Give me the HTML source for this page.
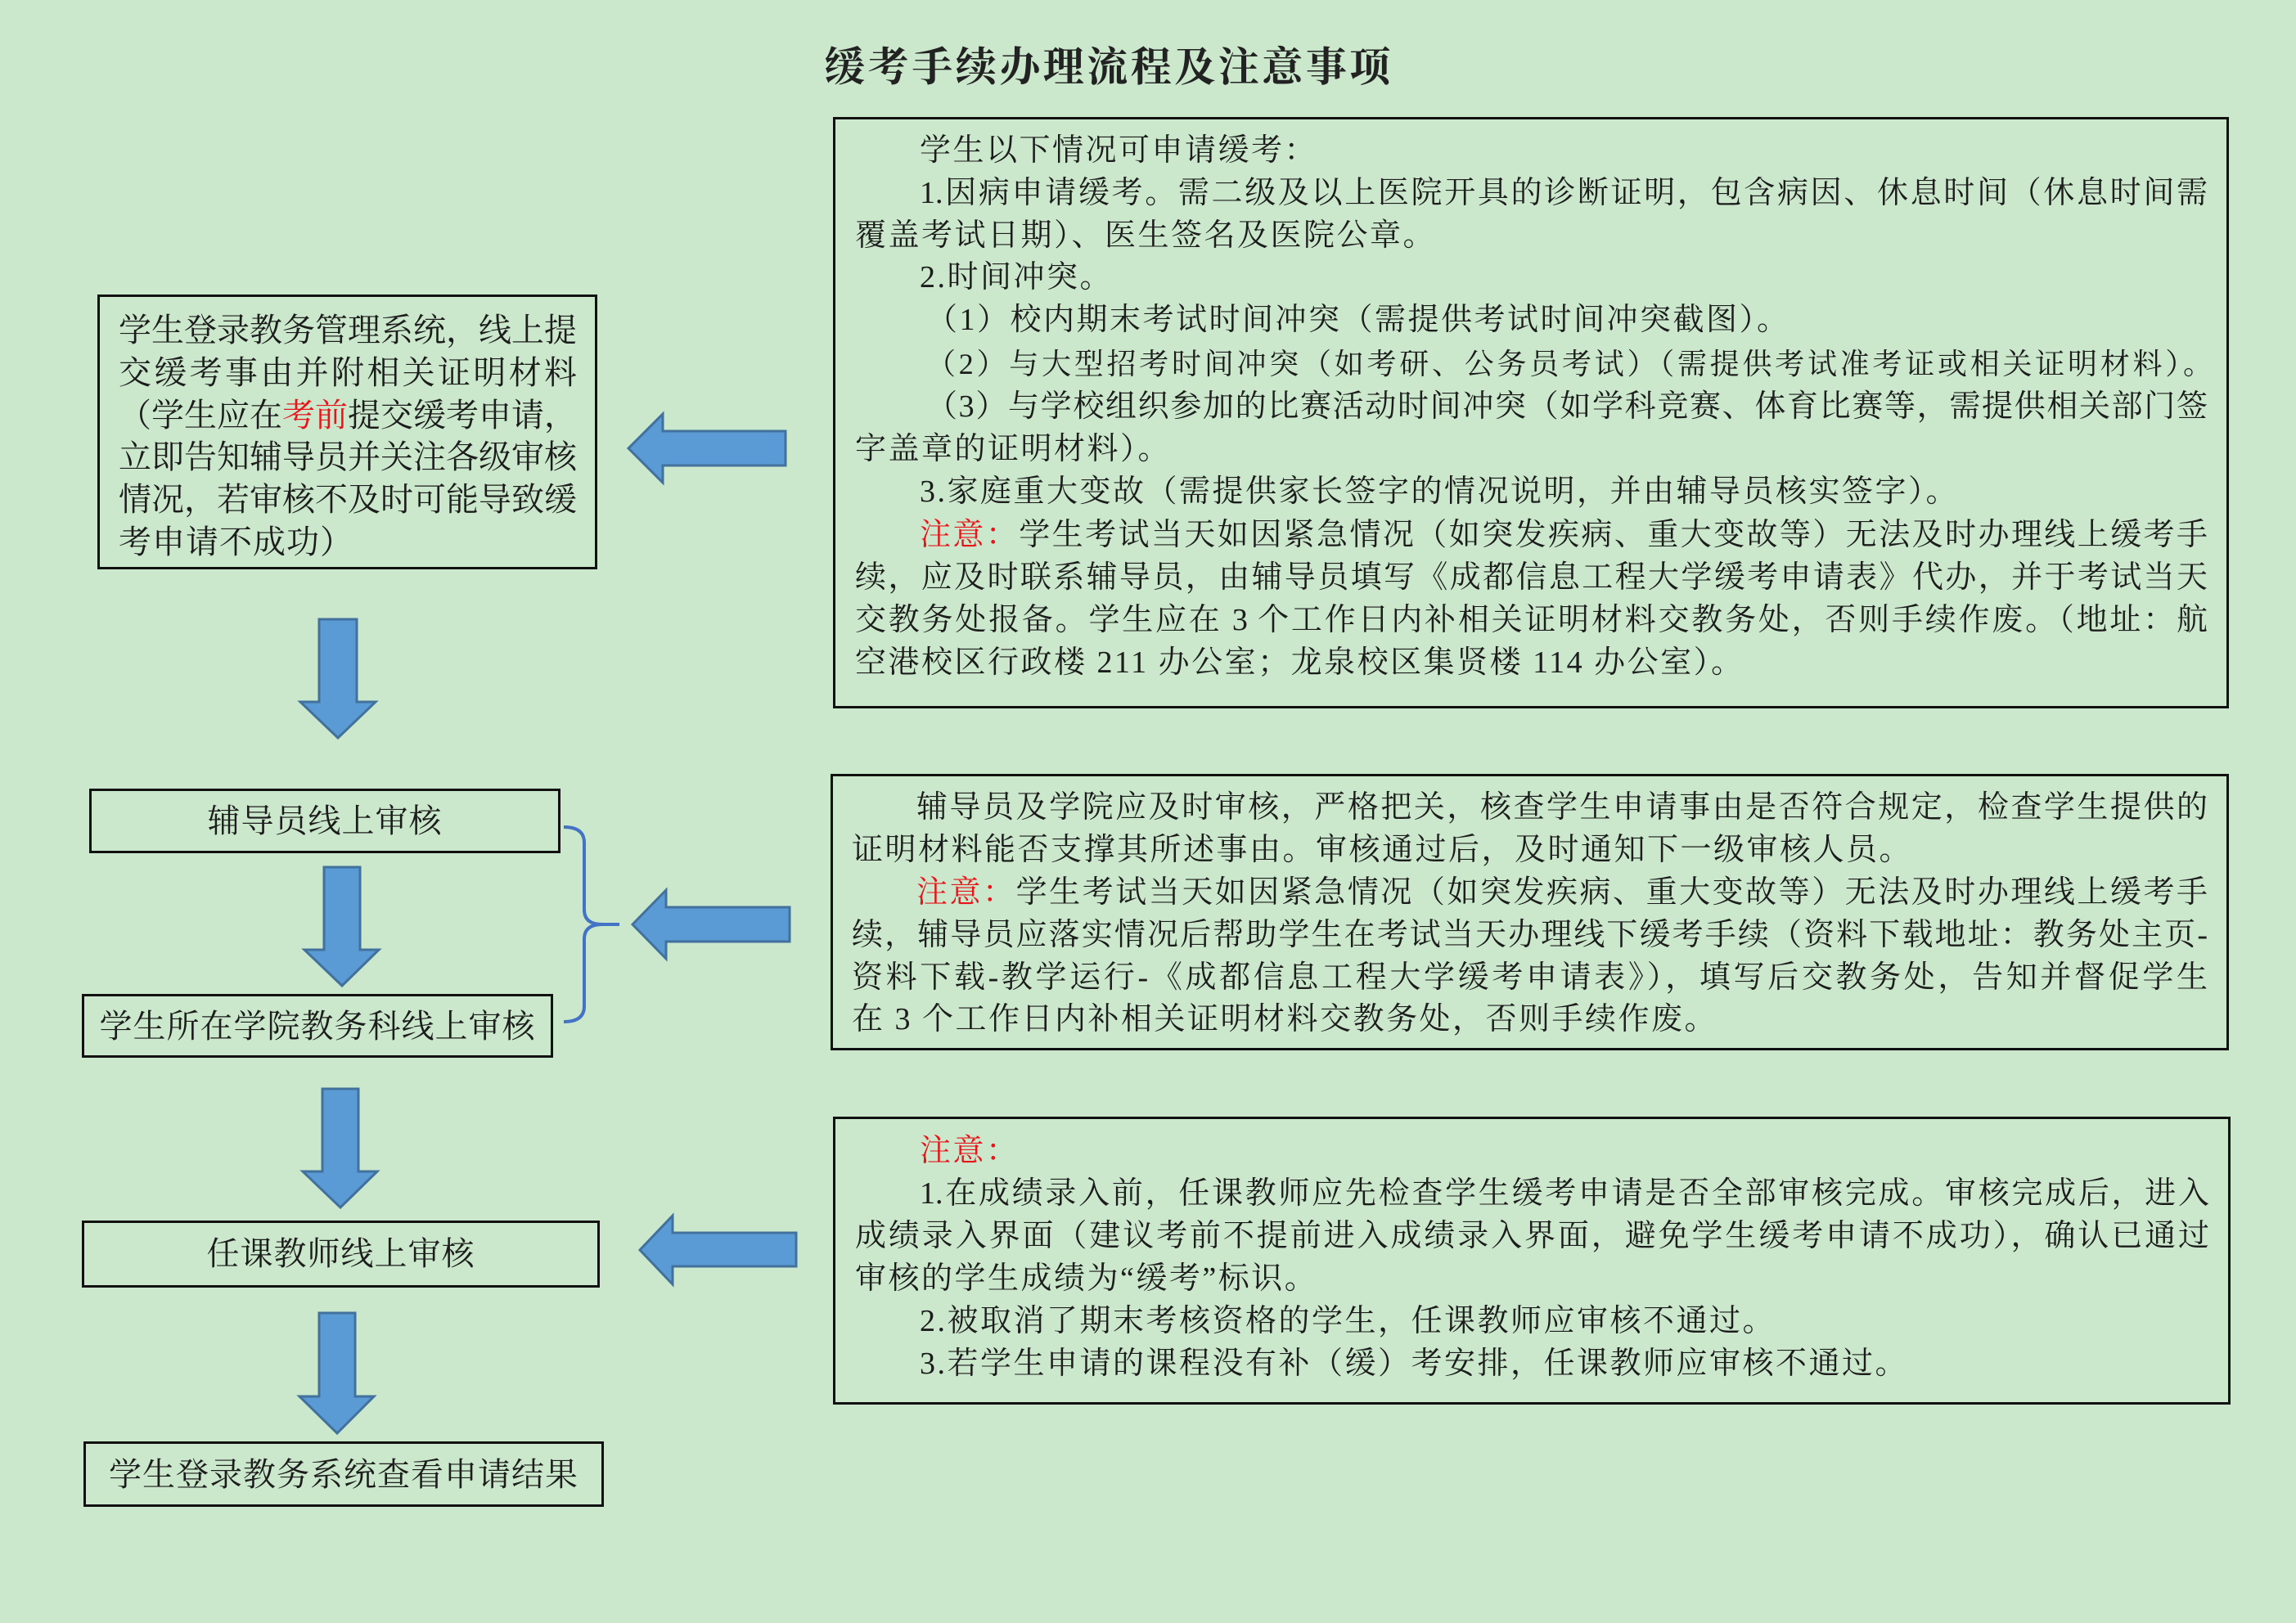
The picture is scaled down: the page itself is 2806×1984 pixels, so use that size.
<!DOCTYPE html>
<html><head><meta charset="utf-8">
<style>
html,body{margin:0;padding:0}
body{width:2806px;height:1984px;background:#cbe8cc;position:relative;overflow:hidden;font-family:"Liberation Serif","Noto Serif CJK SC",serif;color:#1c1c1c}
.box{position:absolute;border:3px solid #111;box-sizing:border-box}
.l{position:absolute;height:52px;line-height:52px;font-size:38px;white-space:nowrap;letter-spacing:2.5px;margin-top:3px}
.j{text-align:justify;text-align-last:justify;white-space:normal;overflow:hidden;letter-spacing:0}
.r{color:#e8141a}
.c{position:absolute;font-size:40px;line-height:52px;text-align:center;white-space:nowrap;letter-spacing:1px}
.t{position:absolute;left:980px;top:50px;width:750px;text-align:center;font-size:50px;font-weight:bold;line-height:64px;color:#222;letter-spacing:3.5px}
</style></head><body>
<div class="t">缓考手续办理流程及注意事项</div>

<div class="box" style="left:1018px;top:143px;width:1706px;height:723px"></div>
<div class="l" style="left:1124px;top:155px">学生以下情况可申请缓考：</div>
<div class="l j" style="left:1124px;top:207px;width:1574px">1.因病申请缓考。需二级及以上医院开具的诊断证明，包含病因、休息时间（休息时间需</div>
<div class="l" style="left:1045px;top:259px">覆盖考试日期）、医生签名及医院公章。</div>
<div class="l" style="left:1124px;top:310px">2.时间冲突。</div>
<div class="l" style="left:1132px;top:362px">（1）校内期末考试时间冲突（需提供考试时间冲突截图）。</div>
<div class="l j" style="left:1132px;top:416px;width:1572px;font-size:36px">（2）与大型招考时间冲突（如考研、公务员考试）（需提供考试准考证或相关证明材料）。</div>
<div class="l j" style="left:1132px;top:468px;width:1566px">（3）与学校组织参加的比赛活动时间冲突（如学科竞赛、体育比赛等，需提供相关部门签</div>
<div class="l" style="left:1045px;top:520px">字盖章的证明材料）。</div>
<div class="l" style="left:1124px;top:572px">3.家庭重大变故（需提供家长签字的情况说明，并由辅导员核实签字）。</div>
<div class="l j" style="left:1124px;top:625px;width:1574px"><span class="r">注意：</span>学生考试当天如因紧急情况（如突发疾病、重大变故等）无法及时办理线上缓考手</div>
<div class="l j" style="left:1045px;top:677px;width:1653px">续，应及时联系辅导员，由辅导员填写《成都信息工程大学缓考申请表》代办，并于考试当天</div>
<div class="l j" style="left:1045px;top:729px;width:1653px">交教务处报备。学生应在 3 个工作日内补相关证明材料交教务处，否则手续作废。（地址：航</div>
<div class="l" style="left:1045px;top:781px">空港校区行政楼 211 办公室；龙泉校区集贤楼 114 办公室）。</div>

<div class="box" style="left:1015px;top:946px;width:1709px;height:338px"></div>
<div class="l j" style="left:1120px;top:958px;width:1578px">辅导员及学院应及时审核，严格把关，核查学生申请事由是否符合规定，检查学生提供的</div>
<div class="l" style="left:1041px;top:1010px">证明材料能否支撑其所述事由。审核通过后，及时通知下一级审核人员。</div>
<div class="l j" style="left:1120px;top:1062px;width:1578px"><span class="r">注意：</span>学生考试当天如因紧急情况（如突发疾病、重大变故等）无法及时办理线上缓考手</div>
<div class="l j" style="left:1041px;top:1114px;width:1657px">续，辅导员应落实情况后帮助学生在考试当天办理线下缓考手续（资料下载地址：教务处主页-</div>
<div class="l j" style="left:1041px;top:1166px;width:1657px">资料下载-教学运行-《成都信息工程大学缓考申请表》），填写后交教务处，告知并督促学生</div>
<div class="l" style="left:1041px;top:1217px">在 3 个工作日内补相关证明材料交教务处，否则手续作废。</div>

<div class="box" style="left:1018px;top:1365px;width:1708px;height:352px"></div>
<div class="l r" style="left:1124px;top:1378px">注意：</div>
<div class="l j" style="left:1124px;top:1430px;width:1576px">1.在成绩录入前，任课教师应先检查学生缓考申请是否全部审核完成。审核完成后，进入</div>
<div class="l j" style="left:1045px;top:1482px;width:1655px">成绩录入界面（建议考前不提前进入成绩录入界面，避免学生缓考申请不成功），确认已通过</div>
<div class="l" style="left:1045px;top:1534px">审核的学生成绩为“缓考”标识。</div>
<div class="l" style="left:1124px;top:1586px">2.被取消了期末考核资格的学生，任课教师应审核不通过。</div>
<div class="l" style="left:1124px;top:1638px">3.若学生申请的课程没有补（缓）考安排，任课教师应审核不通过。</div>

<div class="box" style="left:119px;top:360px;width:611px;height:336px"></div>
<div class="l j" style="left:145px;top:375px;width:560px;font-size:40px">学生登录教务管理系统，线上提</div>
<div class="l j" style="left:145px;top:427px;width:560px;font-size:40px">交缓考事由并附相关证明材料</div>
<div class="l j" style="left:145px;top:479px;width:560px;font-size:40px">（学生应在<span class="r">考前</span>提交缓考申请，</div>
<div class="l j" style="left:145px;top:530px;width:560px;font-size:40px">立即告知辅导员并关注各级审核</div>
<div class="l j" style="left:145px;top:582px;width:560px;font-size:40px">情况，若审核不及时可能导致缓</div>
<div class="l" style="left:145px;top:634px;font-size:40px;letter-spacing:1px">考申请不成功）</div>

<div class="box" style="left:109px;top:964px;width:576px;height:79px"></div>
<div class="c" style="left:109px;top:978px;width:576px">辅导员线上审核</div>
<div class="box" style="left:100px;top:1215px;width:576px;height:78px"></div>
<div class="c" style="left:100px;top:1229px;width:576px">学生所在学院教务科线上审核</div>
<div class="box" style="left:100px;top:1492px;width:633px;height:82px"></div>
<div class="c" style="left:100px;top:1507px;width:633px">任课教师线上审核</div>
<div class="box" style="left:102px;top:1762px;width:636px;height:80px"></div>
<div class="c" style="left:102px;top:1777px;width:636px">学生登录教务系统查看申请结果</div>

<svg width="2806" height="1984" style="position:absolute;left:0;top:0" xmlns="http://www.w3.org/2000/svg">
<g fill="#5b9bd5" stroke="#41719c" stroke-width="3">
<polygon points="390,757 436,757 436,858 459,858 413,902 367,858 390,858"/>
<polygon points="396,1060 440,1060 440,1161 463,1161 418,1205 372,1161 396,1161"/>
<polygon points="394,1331 438,1331 438,1432 461,1432 416,1476 370,1432 394,1432"/>
<polygon points="390,1605 434,1605 434,1707 457,1707 412,1752 366,1707 390,1707"/>
<polygon points="768,548 810,506 810,527 960,527 960,569 810,569 810,590"/>
<polygon points="773,1130 814,1088 814,1109 965,1109 965,1151 814,1151 814,1172"/>
<polygon points="782,1528 822,1486 822,1507 973,1507 973,1548 822,1548 822,1570"/>
</g>
<path d="M689,1011 Q714,1011 714,1030 L714,1112 Q714,1130 736,1130 L757,1130 M736,1130 Q714,1130 714,1148 L714,1230 Q714,1249 689,1249" fill="none" stroke="#4472c4" stroke-width="4"/>
</svg>
</body></html>
